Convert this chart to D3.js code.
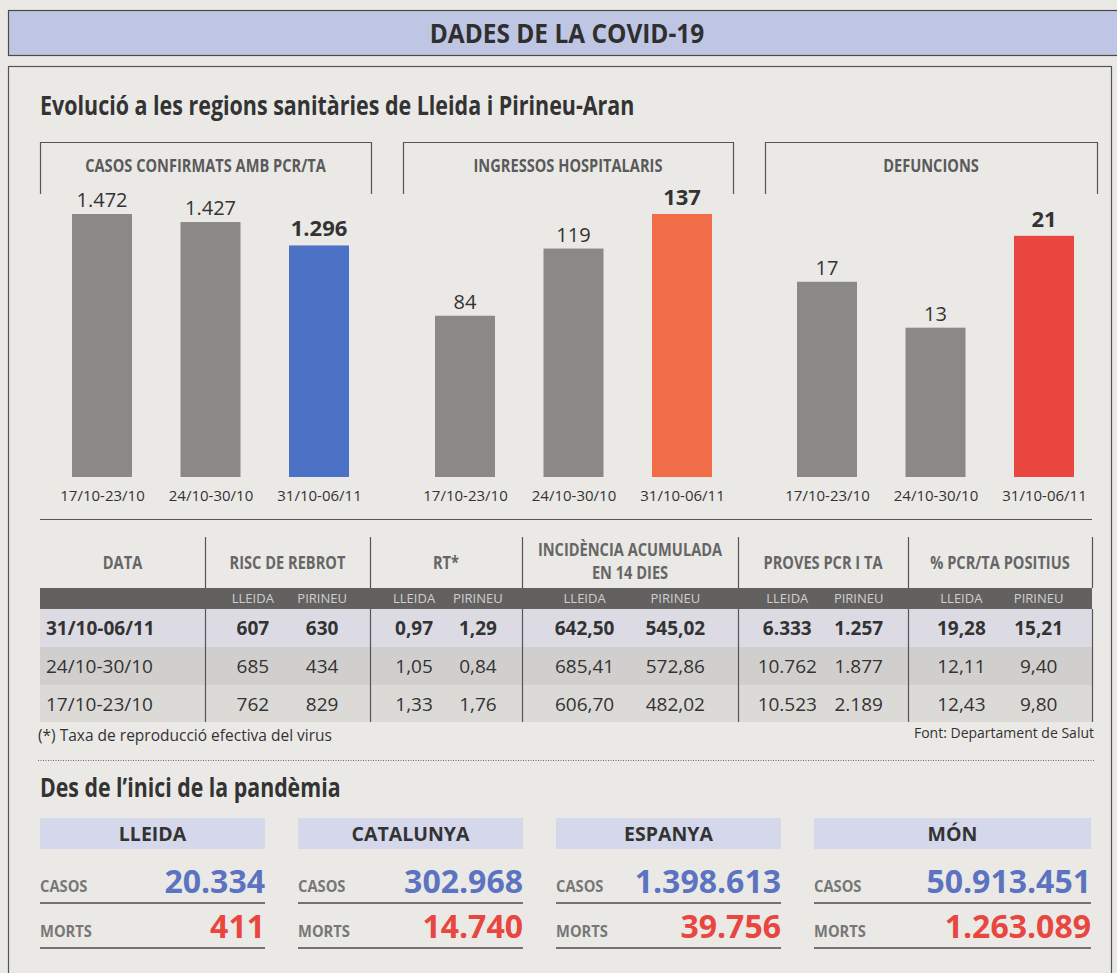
<!DOCTYPE html>
<html>
<head>
<meta charset="utf-8">
<script src="https://cdn.jsdelivr.net/npm/d3@7"></script>
<style>
html, body { margin: 0; padding: 0; background: #eae9e6; }
svg { display: block; }
</style>
</head>
<body>
<div id="chart"></div>
<script>
// dades
let periods = ["17/10-23/10", "24/10-30/10", "31/10-06/11"];
let panelTitles = ["CASOS CONFIRMATS AMB PCR/TA", "INGRESSOS HOSPITALARIS", "DEFUNCIONS"];
let casos = [1472, 1427, 1296];
let ingressos = [84, 119, 137];
let defuncions = [17, 13, 21];

let tableDates = ["31/10-06/11", "24/10-30/10", "17/10-23/10"];
let tableHeaders = [["DATA"], ["RISC DE REBROT"], ["RT*"], ["INCIDÈNCIA ACUMULADA", "EN 14 DIES"], ["PROVES PCR I TA"], ["% PCR/TA POSITIUS"]];
let subHeaders = ["LLEIDA", "PIRINEU"];
let riscLleida = [607, 685, 762];
let riscPirineu = [630, 434, 829];
let rtLleida = [0.97, 1.05, 1.33];
let rtPirineu = [1.29, 0.84, 1.76];
let iaLleida = [642.50, 685.41, 606.70];
let iaPirineu = [545.02, 572.86, 482.02];
let pcrLleida = [6333, 10762, 10523];
let pcrPirineu = [1257, 1877, 2189];
let posLleida = [19.28, 12.11, 12.43];
let posPirineu = [15.21, 9.40, 9.80];

let regions = ["LLEIDA", "CATALUNYA", "ESPANYA", "MÓN"];
let casosTotals = [20334, 302968, 1398613, 50913451];
let mortsTotals = [411, 14740, 39756, 1263089];

let config = {
  width: 1117,
  height: 973,
  paper: '#eae9e6',
  ink: '#333',
  line: '#555',
  barColor: '#8b8987',
  highlight: ['#4b72c5', '#f06d47', '#e8463e'],
  sans: "'Open Sans', 'Noto Sans', sans-serif"
};

let locale = d3.formatLocale({ decimal: ",", thousands: ".", grouping: [3], currency: ["", "€"] });
let fInt = locale.format(",d");
let fDec = locale.format(",.2f");

let svg = d3.select('#chart').append('svg')
  .attr('width', config.width)
  .attr('height', config.height);

svg.append('rect').attr('width', config.width).attr('height', config.height).attr('fill', config.paper);

// text estret (no hi ha tipografia condensada): s'escala en horitzontal
function narrow(sel, x, y, k) {
  return sel
    .attr('transform', (d, i) => {
      let xx = typeof x === 'function' ? x(d, i) : x;
      let yy = typeof y === 'function' ? y(d, i) : y;
      return `translate(${xx},${yy}) scale(${k},1)`;
    })
    .attr('font-family', config.sans)
    .attr('font-weight', 'bold');
}

// capçalera
svg.append('rect')
  .attr('x', 8.5).attr('y', 10.5).attr('width', 1130).attr('height', 45)
  .attr('fill', '#bfc6e3').attr('stroke', '#4a4a4a').attr('stroke-width', 1.2);
narrow(svg.append('text').text('DADES DE LA COVID-19'), 567, 43, 0.94)
  .attr('text-anchor', 'middle')
  .attr('font-size', 26)
  .attr('fill', '#2f2f2f');

// marc
svg.append('rect')
  .attr('x', 8.5).attr('y', 66.5).attr('width', 1103).attr('height', 950)
  .attr('fill', 'none').attr('stroke', config.line).attr('stroke-width', 1.2);

narrow(svg.append('text').text('Evolució a les regions sanitàries de Lleida i Pirineu-Aran'), 40, 115, 0.825)
  .attr('font-size', 26)
  .attr('fill', config.ink);

// gràfics de barres
let panelSeries = [casos, ingressos, defuncions];
let panelMax = [1472, 137, 22.9];
let panelLeft = [40, 403, 765];
let panelRight = [371, 733, 1097];
let barWidth = 60;
let barBase = 477, barTop = 214;

panelSeries.forEach(function(vals, p) {
  let x0 = panelLeft[p], x1 = panelRight[p];
  let g = svg.append('g').attr('class', 'panel');

  g.append('path')
    .attr('d', `M${x0 + 0.5},194V142.5H${x1 + 0.5}V194`)
    .attr('fill', 'none').attr('stroke', config.line).attr('stroke-width', 1.2);
  narrow(g.append('text').text(panelTitles[p]), (x0 + x1) / 2, 172, 0.86)
    .attr('text-anchor', 'middle')
    .attr('font-size', 17)
    .attr('fill', '#5a5a5a');

  let x = d3.scalePoint().domain(periods).range([x0 + 62, x0 + 279]);
  let y = d3.scaleLinear().domain([0, panelMax[p]]).range([barBase, barTop]);

  g.selectAll('rect.bar')
    .data(vals)
    .enter().append('rect')
    .attr('class', 'bar')
    .attr('x', (d, i) => x(periods[i]) - barWidth / 2)
    .attr('y', (d) => y(d))
    .attr('width', barWidth)
    .attr('height', (d) => y(0) - y(d))
    .attr('fill', (d, i) => i === vals.length - 1 ? config.highlight[p] : config.barColor);

  g.selectAll('text.value')
    .data(vals)
    .enter().append('text')
    .attr('class', 'value')
    .text((d) => fInt(d))
    .attr('x', (d, i) => x(periods[i]))
    .attr('y', (d, i) => y(d) - (i === vals.length - 1 ? 9 : 7))
    .attr('text-anchor', 'middle')
    .attr('font-family', config.sans)
    .attr('font-weight', (d, i) => i === vals.length - 1 ? 'bold' : 'normal')
    .attr('font-size', (d, i) => i === vals.length - 1 ? 22 : 20)
    .attr('fill', config.ink);

  let axis = g.append('g')
    .attr('transform', `translate(0,${barBase})`)
    .call(d3.axisBottom(x).tickSize(0).tickPadding(13));
  axis.select('.domain').remove();
  axis.selectAll('text')
    .attr('font-family', config.sans).attr('font-size', 15).attr('fill', config.ink);
});

// taula
let colEdges = [40, 205, 370, 522, 738, 908, 1092];
let bandY = 588, bandH = 21;
let rowEdges = [609, 647, 685, 722];
let rowFill = ['#dcdbe4', '#d1cfcd', '#dbdad7'];

svg.append('line')
  .attr('x1', 40).attr('x2', 1092).attr('y1', 519.5).attr('y2', 519.5)
  .attr('stroke', config.line).attr('stroke-width', 1.2);

let table = svg.append('g').attr('class', 'table');

table.selectAll('rect.row')
  .data(tableDates)
  .enter().append('rect')
  .attr('x', colEdges[0]).attr('width', colEdges[6] - colEdges[0])
  .attr('y', (d, i) => rowEdges[i]).attr('height', (d, i) => rowEdges[i + 1] - rowEdges[i])
  .attr('fill', (d, i) => rowFill[i]);

table.append('rect')
  .attr('x', colEdges[0]).attr('width', colEdges[6] - colEdges[0])
  .attr('y', bandY).attr('height', bandH)
  .attr('fill', '#636160');

colEdges.slice(1).forEach(function(cx) {
  table.append('line').attr('x1', cx + 0.5).attr('x2', cx + 0.5).attr('y1', 537).attr('y2', bandY)
    .attr('stroke', config.line).attr('stroke-width', 1.2);
  table.append('line').attr('x1', cx + 0.5).attr('x2', cx + 0.5).attr('y1', bandY + bandH).attr('y2', rowEdges[3])
    .attr('stroke', config.line).attr('stroke-width', 1.2);
});

tableHeaders.forEach(function(lines, c) {
  let cx = (colEdges[c] + colEdges[c + 1]) / 2;
  lines.forEach(function(l, k) {
    narrow(table.append('text').text(l), cx, lines.length === 1 ? 569 : 556 + k * 23, 0.86)
      .attr('text-anchor', 'middle')
      .attr('font-size', 17)
      .attr('fill', '#666');
  });
});

let tableCols = [
  [riscLleida, riscPirineu, fInt],
  [rtLleida, rtPirineu, fDec],
  [iaLleida, iaPirineu, fDec],
  [pcrLleida, pcrPirineu, fInt],
  [posLleida, posPirineu, fDec]
];

tableCols.forEach(function(col, c) {
  let left = colEdges[c + 1], right = colEdges[c + 2];
  let w = right - left;
  let sx = d3.scalePoint().domain(subHeaders).range([left + 0.29 * w, left + 0.71 * w]);

  table.selectAll(null)
    .data(subHeaders)
    .enter().append('text')
    .text((d) => d)
    .attr('x', (d) => sx(d)).attr('y', bandY + 15)
    .attr('text-anchor', 'middle')
    .attr('font-family', config.sans).attr('font-size', 13)
    .attr('fill', '#cfcfcf');

  [col[0], col[1]].forEach(function(vals, s) {
    table.selectAll(null)
      .data(vals)
      .enter().append('text')
      .text((d) => col[2](d))
      .attr('x', sx(subHeaders[s]))
      .attr('y', (d, i) => (rowEdges[i] + rowEdges[i + 1]) / 2 + 7)
      .attr('text-anchor', 'middle')
      .attr('font-family', config.sans).attr('font-size', 19)
      .attr('font-weight', (d, i) => i === 0 ? 'bold' : 'normal')
      .attr('fill', config.ink);
  });
});

table.selectAll(null)
  .data(tableDates)
  .enter().append('text')
  .text((d) => d)
  .attr('x', 46)
  .attr('y', (d, i) => (rowEdges[i] + rowEdges[i + 1]) / 2 + 7)
  .attr('font-family', config.sans).attr('font-size', 19)
  .attr('font-weight', (d, i) => i === 0 ? 'bold' : 'normal')
  .attr('fill', config.ink);

svg.append('text')
  .text('(*) Taxa de reproducció efectiva del virus')
  .attr('x', 38).attr('y', 741)
  .attr('font-family', config.sans).attr('font-size', 15.5)
  .attr('fill', config.ink);
svg.append('text')
  .text('Font: Departament de Salut')
  .attr('x', 1094).attr('y', 738)
  .attr('text-anchor', 'end')
  .attr('font-family', config.sans).attr('font-size', 14)
  .attr('fill', config.ink);

svg.append('line')
  .attr('x1', 38).attr('x2', 1094).attr('y1', 760.5).attr('y2', 760.5)
  .attr('stroke', '#666').attr('stroke-width', 1).attr('stroke-dasharray', '1,1.5');

// des de l'inici
narrow(svg.append('text').text('Des de l’inici de la pandèmia'), 40, 797, 0.82)
  .attr('font-size', 26)
  .attr('fill', config.ink);

let boxLeft = [40, 298, 556, 814];
let boxRight = [265, 523, 781, 1091];

let boxes = svg.append('g').attr('class', 'totals')
  .selectAll('g')
  .data(regions)
  .enter().append('g');

boxes.append('rect')
  .attr('x', (d, i) => boxLeft[i]).attr('width', (d, i) => boxRight[i] - boxLeft[i])
  .attr('y', 818).attr('height', 31)
  .attr('fill', '#d4d8ea');
boxes.append('text')
  .text((d) => d)
  .attr('x', (d, i) => (boxLeft[i] + boxRight[i]) / 2).attr('y', 841)
  .attr('text-anchor', 'middle')
  .attr('font-family', config.sans).attr('font-weight', 'bold').attr('font-size', 19.5)
  .attr('fill', config.ink);

let rowsB = [
  { label: 'CASOS', values: casosTotals, color: '#5b73c0', y: 893, rule: 903 },
  { label: 'MORTS', values: mortsTotals, color: '#e8463e', y: 938, rule: 948 }
];

rowsB.forEach(function(r) {
  narrow(boxes.append('text').text(r.label), (d, i) => boxLeft[i], r.y - 1, 0.95)
    .attr('font-size', 15.5)
    .attr('fill', '#777');
  boxes.append('text')
    .text((d, i) => fInt(r.values[i]))
    .attr('x', (d, i) => boxRight[i]).attr('y', r.y)
    .attr('text-anchor', 'end')
    .attr('font-family', config.sans).attr('font-weight', 'bold').attr('font-size', 32)
    .attr('fill', r.color);
  boxes.append('line')
    .attr('x1', (d, i) => boxLeft[i]).attr('x2', (d, i) => boxRight[i])
    .attr('y1', r.rule).attr('y2', r.rule)
    .attr('stroke', '#4a4a4a').attr('stroke-width', 1.5);
});
</script>
</body>
</html>
